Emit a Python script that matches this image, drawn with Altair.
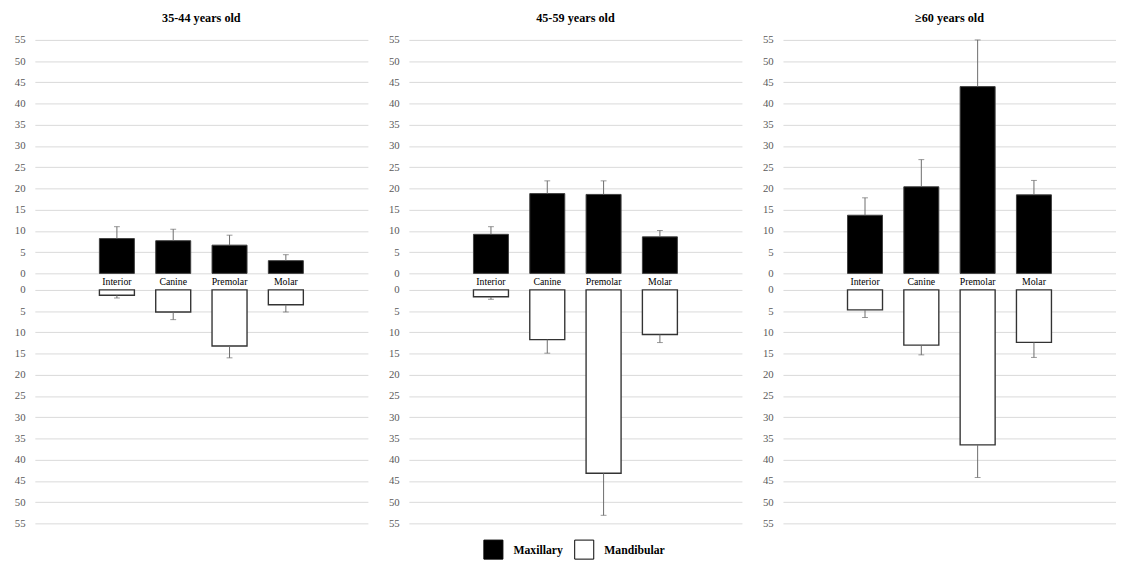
import altair as alt
import pandas as pd

groups = ["35-44 years old", "45-59 years old", "≥60 years old"]
teeth = ["Interior", "Canine", "Premolar", "Molar"]
jaws = ["Maxillary", "Mandibular"]
max_mean = [[8.2, 7.7, 6.65, 3.0], [9.2, 18.8, 18.6, 8.6], [13.7, 20.4, 44.0, 18.5]]
max_sd = [[2.8, 2.7, 2.35, 1.4], [1.8, 3.0, 3.2, 1.5], [4.1, 6.4, 11.0, 3.4]]
man_mean = [[1.25, 5.2, 13.2, 3.5], [1.6, 11.7, 43.2, 10.5], [4.7, 13.0, 36.5, 12.35]]
man_sd = [[0.65, 1.8, 2.8, 1.7], [0.6, 3.2, 9.9, 1.9], [1.8, 2.3, 7.7, 3.55]]
y_ticks = list(range(0, 56, 5))

FONT = "Liberation Serif"
W, H = 341, 495
GAP = 3.9  # value-units gap between the two halves, where tooth labels sit

tick_pos = y_ticks + [-(t + GAP) for t in y_ticks]

color_scale = alt.Scale(domain=jaws, range=["#000000", "#ffffff"])
legend = alt.Legend(
    orient="none", legendX=459, legendY=511, direction="horizontal", title=None,
    symbolType="square", symbolSize=380, symbolStrokeColor="#000000", symbolStrokeWidth=1,
    labelFont=FONT, labelFontSize=12, labelFontWeight="bold", labelColor="#000000",
    labelOffset=10, columnPadding=9,
)
y_scale = alt.Scale(domain=[-(55 + GAP), 55], nice=False, zero=False)
y_axis = alt.Axis(
    values=tick_pos, title=None, domain=False, ticks=False, labelFont=FONT,
    labelFontSize=11, labelColor="#595959", labelPadding=10, grid=True,
    gridColor="#d9d9d9", gridWidth=1, minExtent=25, maxExtent=25,
    labelOverlap=False,
    labelExpr=f"datum.value >= 0 ? round(datum.value) : round(-(datum.value + {GAP}))",
)


def panel(i):
    rows = []
    for t, m, s in zip(teeth, max_mean[i], max_sd[i]):
        rows.append({"tooth": t, "jaw": "Maxillary", "y0": 0.0, "y1": m,
                     "e1": m + s})
    for t, m, s in zip(teeth, man_mean[i], man_sd[i]):
        rows.append({"tooth": t, "jaw": "Mandibular", "y0": -GAP, "y1": -(m + GAP),
                     "e1": -(m + s + GAP)})
    df = pd.DataFrame(rows)
    lab = pd.DataFrame({"tooth": teeth, "ly": [-GAP / 2] * len(teeth)})

    x = alt.X("tooth:N", sort=teeth,
              scale=alt.Scale(domain=teeth, paddingInner=0.086, paddingOuter=1.0),
              axis=None)
    base = alt.Chart(df).encode(x=x)
    up = base.transform_filter(alt.datum.jaw == "Maxillary")
    dn = base.transform_filter(alt.datum.jaw == "Mandibular")

    def bars(src, stroke, sw):
        return src.mark_bar(stroke=stroke, strokeWidth=sw,
                            width=alt.RelativeBandSize(0.68)).encode(
            y=alt.Y("y0:Q", scale=y_scale, axis=y_axis),
            y2="y1:Q",
            color=alt.Color("jaw:N", scale=color_scale, legend=legend),
        )

    rule = base.mark_rule(color="#6b6b6b", strokeWidth=1).encode(
        y=alt.Y("y1:Q", scale=y_scale, axis=y_axis), y2="e1:Q"
    )
    cap = base.mark_tick(color="#6b6b6b", thickness=1, size=6, orient="horizontal").encode(
        y=alt.Y("e1:Q", scale=y_scale, axis=y_axis)
    )
    text = alt.Chart(lab).mark_text(font=FONT, fontSize=10, color="#000000",
                                    baseline="middle").encode(
        x=x, y=alt.Y("ly:Q", scale=y_scale, axis=y_axis), text="tooth:N"
    )
    return alt.layer(
        bars(up, "#404040", 1), bars(dn, "#333333", 1.4), rule, cap, text
    ).properties(
        width=W, height=H,
        title=alt.TitleParams(groups[i], font=FONT, fontSize=12.5, fontWeight="bold",
                              color="#000000", offset=10, anchor="middle"),
    )


chart = alt.hconcat(*[panel(i) for i in range(len(groups))], spacing=17).properties(
    padding={"left": 2.5, "top": -3, "right": 0, "bottom": 0}
).configure_view(stroke=None)

chart.save("out.html", embed_options={"renderer": "svg", "actions": False})
